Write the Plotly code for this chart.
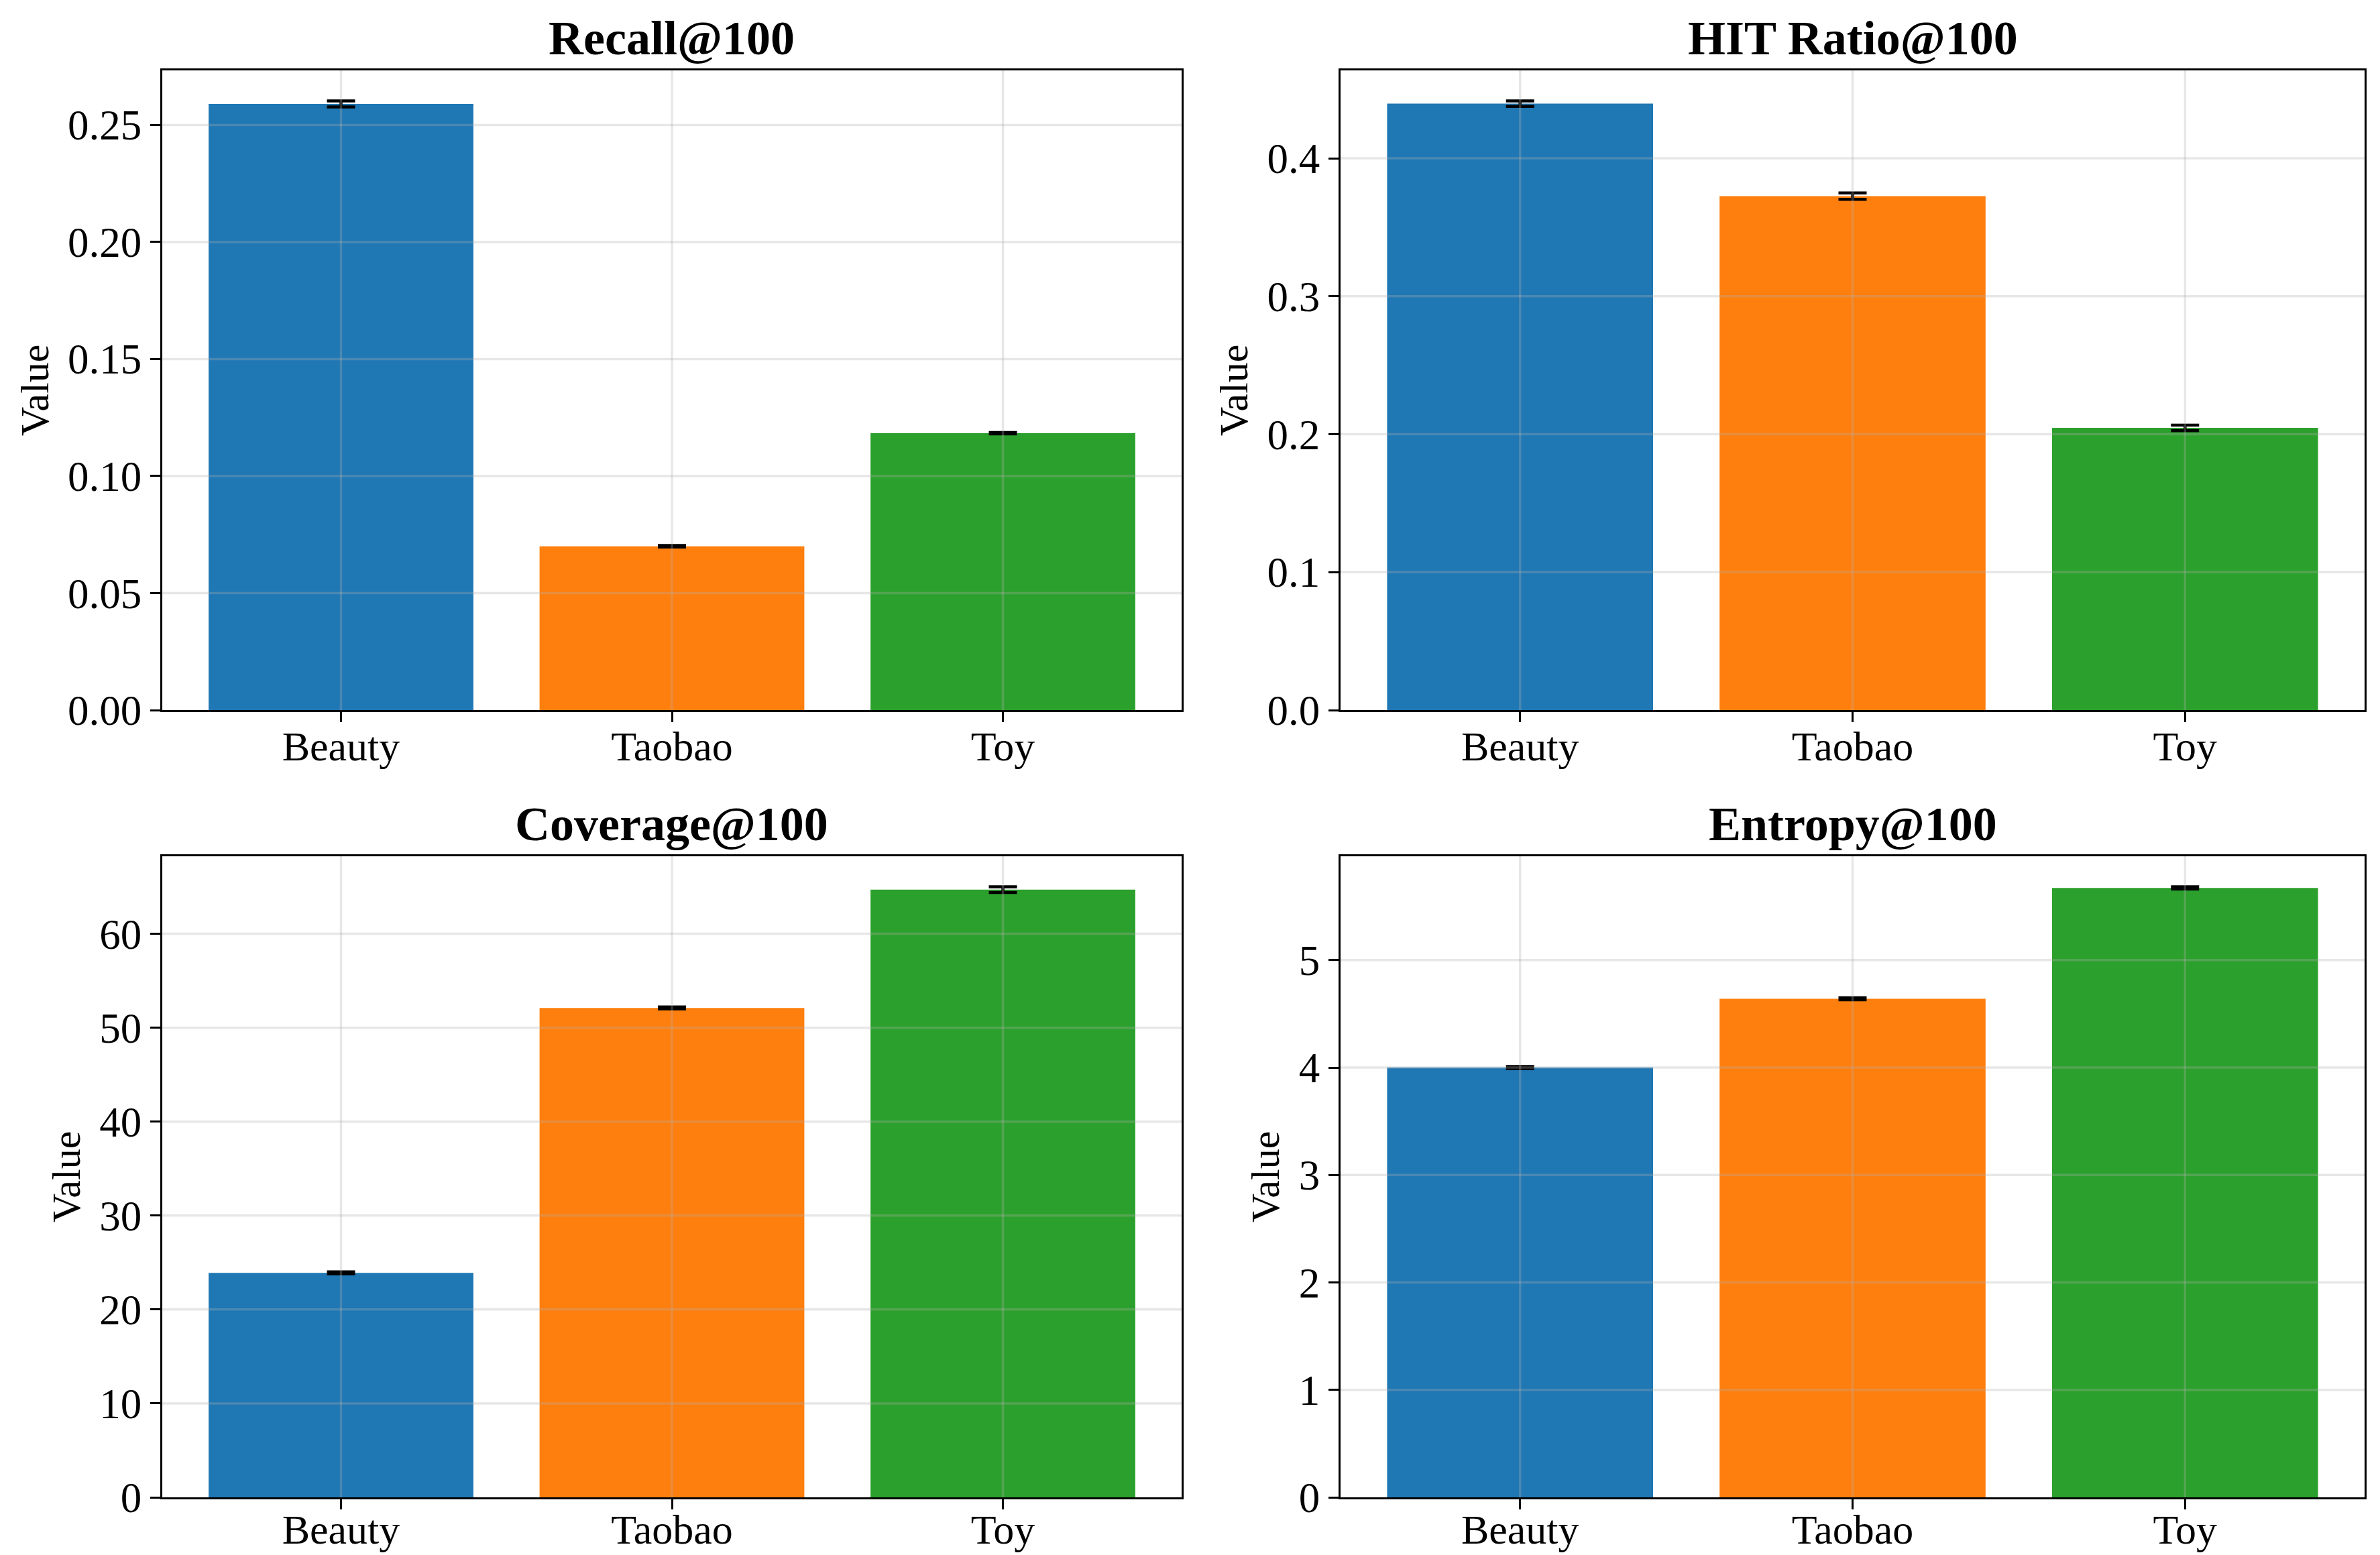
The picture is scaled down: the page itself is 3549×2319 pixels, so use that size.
import plotly.graph_objects as go

# ---------------- data ----------------
datasets = ["Beauty", "Taobao", "Toy"]
bar_colors = ["#1f77b4", "#ff7f0e", "#2ca02c"]

recall_vals = [0.259, 0.070, 0.1183]
recall_err = [0.0013, 0.0003, 0.0003]

hit_vals = [0.4396, 0.3725, 0.2046]
hit_err = [0.0020, 0.0023, 0.0020]

coverage_vals = [23.9, 52.1, 64.7]
coverage_err = [0.1, 0.1, 0.3]

entropy_vals = [4.00, 4.64, 5.672]
entropy_err = [0.01, 0.01, 0.01]

titles = ["Recall@100", "HIT Ratio@100", "Coverage@100", "Entropy@100"]
recall_ticks = [0.00, 0.05, 0.10, 0.15, 0.20, 0.25]
hit_ticks = [0.0, 0.1, 0.2, 0.3, 0.4]
coverage_ticks = [0, 10, 20, 30, 40, 50, 60]
entropy_ticks = [0, 1, 2, 3, 4, 5]

# ---------------- layout ----------------
W, H = 3549, 2319
FONT = "Liberation Serif, Times New Roman, serif"

panels = [
    (recall_vals, recall_err, recall_ticks, ".2f", (242, 1762), (105, 1059), -18),
    (hit_vals, hit_err, hit_ticks, ".1f", (1999, 3526), (105, 1059), -18),
    (coverage_vals, coverage_err, coverage_ticks, "d", (242, 1762), (1277, 2233), -24),
    (entropy_vals, entropy_err, entropy_ticks, "d", (1999, 3526), (1277, 2233), -24),
]

fig = go.Figure()
shapes = []
annotations = []
layout_axes = {}

grid_color = "rgba(176,176,176,0.3)"

for i, (vals, errs, ticks, fmt, (xl, xr), (yt, yb), xstand) in enumerate(panels):
    n = i + 1
    xa = "x" if n == 1 else f"x{n}"
    ya = "y" if n == 1 else f"y{n}"
    fig.add_trace(go.Bar(
        x=datasets, y=vals, xaxis=xa, yaxis=ya,
        marker=dict(color=bar_colors, line=dict(width=0)),
        error_y=dict(type="data", array=errs, visible=True,
                     color="black", thickness=4.5, width=21),
        showlegend=False,
    ))
    ymax = 1.05 * max(v + e for v, e in zip(vals, errs))
    xdom = [xl / W, xr / W]
    ydom = [1 - yb / H, 1 - yt / H]
    xkey = "xaxis" if n == 1 else f"xaxis{n}"
    ykey = "yaxis" if n == 1 else f"yaxis{n}"
    layout_axes[xkey] = dict(
        domain=xdom, anchor=ya, type="category",
        range=[-0.54, 2.54], automargin=False,
        showline=True, linecolor="black", linewidth=3.2, mirror=True,
        ticks="outside", ticklen=15, tickwidth=3, tickcolor="black",
        ticklabelstandoff=xstand,
        showgrid=False, zeroline=False,
        tickfont=dict(family=FONT, size=62, color="black"),
    )
    layout_axes[ykey] = dict(
        domain=ydom, anchor=xa,
        range=[0, ymax], automargin=False,
        tickvals=ticks, tickformat=fmt,
        showline=True, linecolor="black", linewidth=3.2, mirror=True,
        ticks="outside", ticklen=15, tickwidth=3, tickcolor="black",
        showgrid=False, zeroline=False,
        tickfont=dict(family=FONT, size=63, color="black"),
        title=dict(text="Value", font=dict(family=FONT, size=60, color="black"),
                   standoff=10),
    )
    # grid lines drawn above bars (as in the reference)
    for t in ticks:
        if 0 < t < ymax:
            shapes.append(dict(type="line", xref=f"{xa} domain", yref=ya,
                               x0=0, x1=1, y0=t, y1=t, layer="above",
                               line=dict(color=grid_color, width=3.5)))
    for c in datasets:
        shapes.append(dict(type="line", xref=xa, yref=f"{ya} domain",
                           x0=c, x1=c, y0=0, y1=1, layer="above",
                           line=dict(color=grid_color, width=3.5)))
    annotations.append(dict(
        text=f"<b>{titles[i]}</b>", xref="paper", yref="paper",
        x=(xdom[0] + xdom[1]) / 2, y=ydom[1], xanchor="center", yanchor="bottom",
        yshift=6, showarrow=False,
        font=dict(family=FONT, size=72, color="black"),
    ))

fig.update_layout(
    width=W, height=H,
    margin=dict(l=0, r=0, t=0, b=0, autoexpand=False),
    paper_bgcolor="white", plot_bgcolor="white",
    bargap=0.2,
    shapes=shapes, annotations=annotations,
    font=dict(family=FONT, color="black"),
    **layout_axes,
)

fig.write_html("out.html")
